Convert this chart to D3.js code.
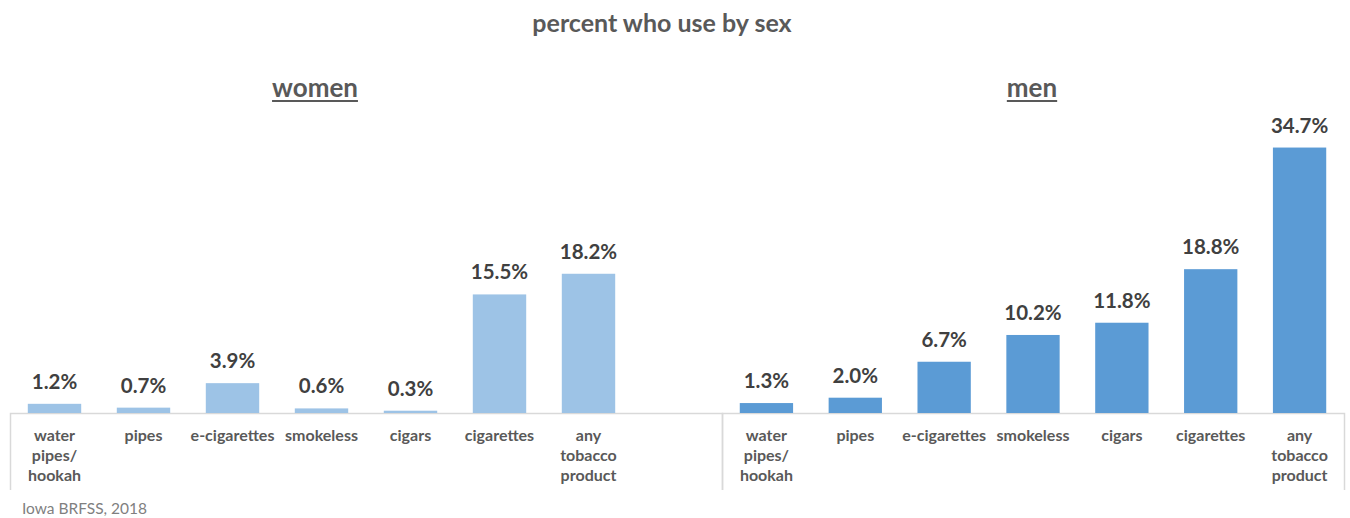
<!DOCTYPE html>
<html lang="en">
<head>
  <meta charset="UTF-8">
  <title>percent who use by sex</title>
  <script src="https://d3js.org/d3.v7.min.js"></script>
  <style>
    body { margin: 0; background: #fff; }
    svg { display: block; font-family: "Lato", "Open Sans", sans-serif; }
    .domain { stroke: #d9d9d9; stroke-width: 1.5; }
    .cat-label { font-size: 16px; font-weight: 700; fill: #595959; }
    .value-label { font-size: 20.5px; font-weight: 700; fill: #404040; }
    .group-title { font-size: 26px; font-weight: 700; fill: #595959; }
  </style>
</head>
<body>
<svg id="chart" width="1350" height="518"></svg>

<script>
    // ——— data ———
    const categories = ["water pipes/ hookah", "pipes", "e-cigarettes", "smokeless", "cigars", "cigarettes", "any tobacco product"];
    // how each tick label is broken into lines
    const categoryLines = [["water", "pipes/", "hookah"], ["pipes"], ["e-cigarettes"], ["smokeless"], ["cigars"], ["cigarettes"], ["any", "tobacco", "product"]];
    const womenValues = [1.2, 0.7, 3.9, 0.6, 0.3, 15.5, 18.2];
    const menValues   = [1.3, 2.0, 6.7, 10.2, 11.8, 18.8, 34.7];
    const groups = ["women", "men"];
    const yTicks = [0, 40];

    const WOMEN_BLUE = "#9dc3e6",
          MEN_BLUE   = "#5b9bd5";

    const svg = d3.select("#chart");
    const baseY = 413;

    const y = d3.scaleLinear().domain(d3.extent(yTicks)).range([baseY, baseY - 306]);

    // women panel has one empty slot at the end
    const xWomen = d3.scaleBand()
        .domain(categories.concat(["(blank)"]))
        .range([10, 722])
        .paddingInner(0.4).paddingOuter(0.2);
    const xMen = d3.scaleBand()
        .domain(categories)
        .range([722, 1344])
        .paddingInner(0.4).paddingOuter(0.2);

    // title
    svg.append("text")
        .attr("x", 662).attr("y", 32)
        .attr("text-anchor", "middle")
        .attr("font-size", "25px")
        .attr("font-weight", 700)
        .attr("fill", "#595959")
        .text("percent who use by sex");

    function drawPanel(x, values, color, name, titleX) {
        const g = svg.append("g");

        // axis: outer ticks turned into the long vertical dividers
        const axis = g.append("g")
            .attr("transform", `translate(0,${baseY})`)
            .call(d3.axisBottom(x).tickSize(0).tickSizeOuter(77).tickFormat(""));
        axis.selectAll(".tick").remove();

        const idx = d => categories.indexOf(d);

        g.selectAll("rect")
          .data(categories)
          .join("rect")
            .attr("x", d => x(d))
            .attr("y", d => y(values[idx(d)]))
            .attr("width", x.bandwidth())
            .attr("height", d => baseY - y(values[idx(d)]))
            .attr("fill", color);

        g.selectAll(".value-label")
          .data(categories)
          .join("text")
            .attr("class", "value-label")
            .attr("x", d => x(d) + x.bandwidth() / 2)
            .attr("y", d => y(values[idx(d)]) - 15)
            .attr("text-anchor", "middle")
            .text(d => values[idx(d)].toFixed(1) + "%");

        const labels = g.selectAll(".cat-label")
          .data(categories)
          .join("text")
            .attr("class", "cat-label")
            .attr("text-anchor", "middle")
            .attr("transform", d => `translate(${x(d) + x.bandwidth() / 2},${baseY + 28})`);
        labels.selectAll("tspan")
          .data(d => categoryLines[idx(d)])
          .join("tspan")
            .attr("x", 0)
            .attr("y", (d, i) => i * 20)
            .text(d => d);

        // underlined panel title
        const t = svg.append("text")
            .attr("class", "group-title")
            .attr("x", titleX).attr("y", 97)
            .attr("text-anchor", "middle")
            .text(name);
        const w = t.node().getComputedTextLength();
        svg.append("line")
            .attr("x1", titleX - w / 2).attr("x2", titleX + w / 2)
            .attr("y1", 101).attr("y2", 101)
            .attr("stroke", "#595959").attr("stroke-width", 2);
    }

    drawPanel(xWomen, womenValues, WOMEN_BLUE, groups[0], 315);
    drawPanel(xMen, menValues, MEN_BLUE, groups[1], 1032);

    // source note
    svg.append("text")
        .attr("x", 22).attr("y", 514)
        .attr("font-size", "15.5px")
        .attr("fill", "#7f7f7f")
        .text("Iowa BRFSS, 2018");
</script>
</body>
</html>
